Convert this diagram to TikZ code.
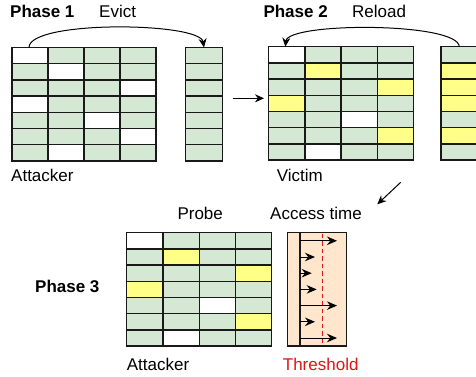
\documentclass[tikz,border=0pt]{standalone}
\usepackage{fontspec}
\setmainfont{Liberation Sans}
\usetikzlibrary{arrows.meta}
\definecolor{cG}{HTML}{D5E8D4}
\definecolor{cY}{HTML}{FFFF88}
\definecolor{cW}{HTML}{FFFFFF}
\definecolor{cP}{HTML}{FFE6CC}
\definecolor{cR}{HTML}{E01515}
\tikzset{
  cellbox/.style={draw=black!90, line width=1.3pt, inner sep=0pt, outer sep=0pt, minimum width=#1, minimum height=16.2pt},
  lbl/.style={font=\fontsize{17}{20}\selectfont, anchor=base west, inner sep=0pt},
  blbl/.style={lbl, font=\fontsize{17}{20}\selectfont\bfseries},
  arr/.style={line width=1pt, -{Stealth[length=9pt,width=8pt]}},
  tarr/.style={line width=1pt, -{Stealth[length=10pt,width=8.5pt]}}
}
\begin{document}
\begin{tikzpicture}[x=1pt,y=-1pt]
\clip (0,0) rectangle (476,377);
\fill[white] (0,0) rectangle (476,377);
% grid 1
\foreach \row [count=\r] in {{cW,cG,cG,cG},{cG,cW,cG,cG},{cG,cG,cG,cW},{cW,cG,cG,cG},{cG,cG,cW,cG},{cG,cG,cG,cW},{cG,cW,cG,cG}}{
  \foreach \cl [count=\c] in \row {
    \node[cellbox=36pt, fill=\cl] (a-\r-\c) at ({12+18+36*(\c-1)}, {47.5+8.1+16.2*(\r-1)}) {};
  }
}
% column 1
\foreach \cl [count=\r] in {cG,cG,cG,cG,cG,cG,cG}{
  \node[cellbox=36.6pt, fill=\cl] (b-\r) at (204, {47.5+8.1+16.2*(\r-1)}) {};
}
% grid 2
\foreach \row [count=\r] in {{cW,cG,cG,cG},{cG,cY,cG,cG},{cG,cG,cG,cY},{cY,cG,cG,cG},{cG,cG,cW,cG},{cG,cG,cG,cY},{cG,cW,cG,cG}}{
  \foreach \cl [count=\c] in \row {
    \node[cellbox=36.2pt, fill=\cl] (v-\r-\c) at ({268.7+18.1+36.2*(\c-1)}, {46.7+8.1+16.2*(\r-1)}) {};
  }
}
% column 2
\foreach \cl [count=\r] in {cG,cY,cY,cY,cG,cY,cG}{
  \node[cellbox=36.6pt, fill=\cl] (w-\r) at (459.3, {46.7+8.1+16.2*(\r-1)}) {};
}
% grid 3
\foreach \row [count=\r] in {{cW,cG,cG,cG},{cG,cY,cG,cG},{cG,cG,cG,cY},{cY,cG,cG,cG},{cG,cG,cW,cG},{cG,cG,cG,cY},{cG,cW,cG,cG}}{
  \foreach \cl [count=\c] in \row {
    \node[cellbox=36.25pt, fill=\cl] (p-\r-\c) at ({126.7+18.125+36.25*(\c-1)}, {232.7+8.1+16.2*(\r-1)}) {};
  }
}
% access time box
\node[draw=black!90, line width=1.3pt, fill=cP, inner sep=0pt, minimum width=59.4pt, minimum height=113.4pt] (acc) at (317,289.4) {};
\coordinate (inT) at (300,232.7);
\coordinate (inB) at (300,346.1);
\draw[line width=1.3pt, black!90] (inT) -- (inB);
\coordinate (thT) at (322.7,233.5);
\coordinate (thB) at (322.7,345.5);
\draw[cR, line width=1.4pt, dash pattern=on 4.5pt off 3pt] (thT) -- (thB);
\foreach \e [count=\r] in {337,315,311.7,316.7,337,315,337}{
  \coordinate (s\r) at (300, {232.7+8.1+16.2*(\r-1)});
  \coordinate (e\r) at (\e, {232.7+8.1+16.2*(\r-1)});
  \draw[tarr] (s\r) -- (e\r);
}
% labels
\node[blbl] (ph1) at (10,18) {Phase 1};
\node[lbl] (ev) at (99,18) {Evict};
\node[blbl] (ph2) at (263.3,18) {Phase 2};
\node[lbl] (rl) at (352,18) {Reload};
\node[lbl] (at1) at (11,181.5) {Attacker};
\node[lbl] (vi) at (276.7,181.5) {Victim};
\node[lbl] (pr) at (177.3,219.3) {Probe};
\node[lbl] (ac) at (270,219.3) {Access time};
\node[blbl] (ph3) at (35,292) {Phase 3};
\node[lbl] (at3) at (126.7,370) {Attacker};
\node[lbl, text=cR] (th) at (282.7,370) {Threshold};
% connectors
\draw[arr] ([xshift=-1pt]a-1-1.north) .. controls (29,20) and (200,22) .. (b-1.north);
\draw[arr] (w-1.north) .. controls (458.3,22) and (288,22) .. ([xshift=-1.5pt]v-1-1.north);
\coordinate (m1) at (232.7,98.3);
\coordinate (m2) at (264,98.3);
\draw[arr] (m1) -- (m2);
\coordinate (d1) at (400.7,182.3);
\coordinate (d2) at (377.3,204.3);
\draw[arr] (d1) -- (d2);
\end{tikzpicture}
\end{document}
